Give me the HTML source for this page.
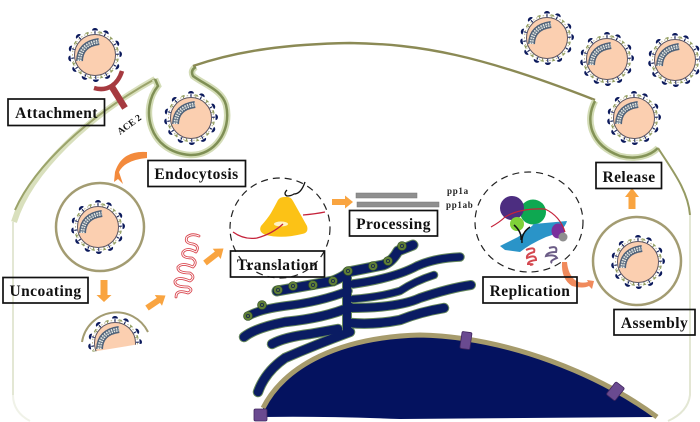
<!DOCTYPE html>
<html><head><meta charset="utf-8"><style>
html,body{margin:0;padding:0;background:#fff;width:700px;height:422px;overflow:hidden}
svg{display:block}
.lb{font-family:"Liberation Serif",serif;font-weight:bold;font-size:15.5px;fill:#111;text-anchor:middle;letter-spacing:.45px}
.bx{fill:none;stroke:#111;stroke-width:1.7}
.o path{stroke:#66885c}
</style></head><body>
<svg width="700" height="422" viewBox="0 0 700 422" xmlns="http://www.w3.org/2000/svg">
<defs>
<g id="s1"><path d="M0-21V-24" stroke="#0c1a5c" stroke-width="1"/><path d="M-3-24A3 2.500 0 0 1 3-24Z" fill="#0c1a5c" transform="translate(0,-.5)"/></g>
<g id="s2"><path d="M0-21V-23.500M-1.700-23.500H1.700" stroke="#8d9a5a" stroke-width="1" fill="none"/></g>
<g id="v">
<circle r="22.500" fill="none" stroke="#b9b38a" stroke-width="1" stroke-dasharray="1.500 2"/>
<use href="#s1" transform="rotate(0)"/><use href="#s1" transform="rotate(26)"/><use href="#s1" transform="rotate(62)"/><use href="#s1" transform="rotate(88)"/><use href="#s1" transform="rotate(118)"/><use href="#s1" transform="rotate(150)"/><use href="#s1" transform="rotate(178)"/><use href="#s1" transform="rotate(205)"/><use href="#s1" transform="rotate(235)"/><use href="#s1" transform="rotate(262)"/><use href="#s1" transform="rotate(285)"/><use href="#s1" transform="rotate(318)"/>
<use href="#s2" transform="rotate(13)"/><use href="#s2" transform="rotate(44)"/><use href="#s2" transform="rotate(75)"/><use href="#s2" transform="rotate(103)"/><use href="#s2" transform="rotate(134)"/><use href="#s2" transform="rotate(164)"/><use href="#s2" transform="rotate(192)"/><use href="#s2" transform="rotate(220)"/><use href="#s2" transform="rotate(248)"/><use href="#s2" transform="rotate(302)"/><use href="#s2" transform="rotate(340)"/>
<circle r="20.500" fill="#fbcfb0" stroke="#5c5560" stroke-width="1"/>
<path d="M-15.500 6Q-15-11 4-13.500" fill="none" stroke="#4f6279" stroke-width="7"/>
<path d="M-15.500 6Q-15-11 4-13.500" fill="none" stroke="#e6e8e2" stroke-width="4" stroke-dasharray="1.500 1"/>
<path d="M-15.500 6Q-15-11 4-13.500" fill="none" stroke="#7a8a98" stroke-width=".8"/>
</g>
<g id="g"><circle r="4.500" fill="#5e7d36" stroke="#2d4a24" stroke-width=".6"/><circle r="1.600" fill="none" stroke="#17264f" stroke-width=".8"/></g>
<clipPath id="hc"><path d="M85 353L146 343V290H85Z"/></clipPath>
</defs>

<rect width="700" height="422" fill="#fff"/>

<!-- membrane -->
<path d="M13 395V222" fill="none" stroke="#e3e7d4" stroke-width="2"/>
<path d="M13 395Q13 412 30 421" fill="none" stroke="#f0f2e8" stroke-width="2"/>
<path d="M14 222C30 170 90 115 155 79" fill="none" stroke="#d9e0bd" stroke-width="6"/>
<path d="M15 210C35 165 90 115 155 79" fill="none" stroke="#9ba36a" stroke-width="2"/>
<path d="M155 79L158 86C140 108 148 152 190 155C215 156 232 130 226 105C222 90 205 85 193 76Q190 70 196 67" fill="none" stroke="#d3dcb6" stroke-width="6.500"/>
<path d="M155 79L158 86C140 108 148 152 190 155C215 156 232 130 226 105C222 90 205 85 193 76Q190 70 196 67" fill="none" stroke="#7f8f55" stroke-width="2.500"/>
<path d="M193 66C240 50 290 44 350 43C420 44 480 55 595 100" fill="none" stroke="#8b8a55" stroke-width="2.400"/>
<path d="M595 101C585 120 590 145 620 156C636 160 650 156 658 148" fill="none" stroke="#d3dcb6" stroke-width="6.500"/>
<path d="M595 101C585 120 590 145 620 156C636 160 650 156 658 148" fill="none" stroke="#849357" stroke-width="2.500"/>
<path d="M658 148C672 170 688 190 690 215" fill="none" stroke="#959a62" stroke-width="2"/>
<path d="M690 215V395Q688 412 668 421" fill="none" stroke="#e3e7d4" stroke-width="2"/>

<!-- viruses -->
<use href="#v" x="95" y="55"/>
<use href="#v" x="191" y="118"/>
<use href="#v" x="547" y="38"/>
<use href="#v" x="607" y="59"/>
<use href="#v" x="675" y="60"/>
<use href="#v" x="634" y="118"/>
<circle cx="100" cy="227" r="44" fill="none" stroke="#a39c72" stroke-width="2.500"/>
<use href="#v" x="98" y="227"/>
<circle cx="637" cy="261" r="44" fill="none" stroke="#a39c72" stroke-width="2.500"/>
<use href="#v" x="638" y="262"/>
<g clip-path="url(#hc)"><use href="#v" x="115" y="343"/></g>
<path d="M82 342A35 35 0 0 1 148 332" fill="none" stroke="#a39c72" stroke-width="2"/>

<!-- ACE2 -->
<path d="M94 88C108 92 118 84 122 71" fill="none" stroke="#a63a40" stroke-width="4.500"/>
<path d="M112 87L125 108" stroke="#a63a40" stroke-width="6.500"/>
<text x="131" y="127" transform="rotate(-36 131 127)" font-family="Liberation Serif,serif" font-size="9.500" font-weight="bold" fill="#111" text-anchor="middle">ACE 2</text>

<!-- nucleus -->
<path d="M263 408C285 365 340 337 420 335C510 337 600 375 657 417L400 419Q320 416 263 417Z" fill="#04125f"/>
<path d="M263 408C285 365 340 337 420 335C510 337 600 375 657 417" fill="none" stroke="#a69b6c" stroke-width="5"/>
<g fill="#6a4a90" stroke="#41265f" stroke-width=".8">
<rect x="254" y="409" width="13" height="12" rx="1.500"/>
<rect x="461" y="332" width="10" height="17" rx="1.500" transform="rotate(8 466 340)"/>
<rect x="610" y="383" width="11" height="16" rx="1.500" transform="rotate(38 615 391)"/>
</g>

<!-- ER outline -->
<g fill="none" stroke="#66885c" stroke-linecap="round" stroke-linejoin="round">
<path d="M277 291L333 281Q345 276 348 272L383 265Q392 262 398 251L413 245" stroke-width="11"/>
<path d="M347 272V330" stroke-width="10"/>
<path d="M460 257Q435 258 417 266Q395 278 353 284" stroke-width="9.500"/>
<path d="M434 275Q415 281 400 291Q380 297 353 299" stroke-width="8.500"/>
<path d="M471 285Q450 288 420 298Q398 308 350 308" stroke-width="10"/>
<path d="M444 308Q420 312 400 320Q375 325 350 323" stroke-width="10.500"/>
<path d="M250 315Q262 309 285 306Q320 302 348 291" stroke-width="9.500"/>
<path d="M244 337Q255 328 285 322Q325 318 350 307" stroke-width="10.500"/>
<path d="M272 344Q285 337 310 334L338 329" stroke-width="10.500"/>
<path d="M258 392Q265 372 285 358Q315 345 350 332" stroke-width="10.500"/>
</g>
<!-- ER fill -->
<g fill="none" stroke="#0a1c63" stroke-linecap="round" stroke-linejoin="round">
<path d="M277 291L333 281Q345 276 348 272L383 265Q392 262 398 251L413 245" stroke-width="9"/>
<path d="M347 272V330" stroke-width="8"/>
<path d="M460 257Q435 258 417 266Q395 278 353 284" stroke-width="7.500"/>
<path d="M434 275Q415 281 400 291Q380 297 353 299" stroke-width="6.500"/>
<path d="M471 285Q450 288 420 298Q398 308 350 308" stroke-width="8"/>
<path d="M444 308Q420 312 400 320Q375 325 350 323" stroke-width="8.500"/>
<path d="M250 315Q262 309 285 306Q320 302 348 291" stroke-width="7.500"/>
<path d="M244 337Q255 328 285 322Q325 318 350 307" stroke-width="8.500"/>
<path d="M272 344Q285 337 310 334L338 329" stroke-width="8.500"/>
<path d="M258 392Q265 372 285 358Q315 345 350 332" stroke-width="8.500"/>
</g>
<use href="#g" x="402" y="246"/><use href="#g" x="388" y="261"/><use href="#g" x="373" y="266"/><use href="#g" x="348" y="271"/><use href="#g" x="333" y="281"/><use href="#g" x="313" y="285"/><use href="#g" x="293" y="286"/><use href="#g" x="278" y="290"/><use href="#g" x="262" y="305"/><use href="#g" x="248" y="316"/>

<!-- Translation -->
<ellipse cx="280" cy="228" rx="50" ry="50" fill="none" stroke="#222" stroke-width="1.200" stroke-dasharray="7 5"/>
<path d="M284 197Q291 196 293 201L307 226Q309 233 302 234Q282 239 266 235Q258 232 261 226Q268 218 271 213Q276 204 278 200Q280 197 284 197Z" fill="#fcc216"/>
<ellipse cx="281" cy="224" rx="7" ry="2.500" fill="#fff3c4"/>
<path d="M233 232Q244 240 257 238Q272 234 283 224" fill="none" stroke="#c5223a" stroke-width="1.300"/>
<path d="M303 215Q315 214 325 212" fill="none" stroke="#c5223a" stroke-width="1.300"/>
<path d="M287 190Q283 194 287 196Q291 196 294 194Q301 194 305 182" fill="none" stroke="#111" stroke-width="1.300"/>

<!-- Processing -->
<rect x="356" y="193" width="61" height="5" fill="#8f8f8f" stroke="#777" stroke-width=".5"/>
<rect x="357" y="202" width="82" height="5" fill="#8f8f8f" stroke="#777" stroke-width=".5"/>
<text x="447" y="194" font-family="Liberation Serif,serif" font-size="9" font-weight="bold" fill="#222" letter-spacing=".7">pp1a</text>
<text x="446" y="208" font-family="Liberation Serif,serif" font-size="9" font-weight="bold" fill="#222" letter-spacing=".7">pp1ab</text>

<!-- Replication -->
<ellipse cx="529" cy="222" rx="54" ry="50" fill="none" stroke="#222" stroke-width="1.200" stroke-dasharray="7 5"/>
<ellipse cx="533" cy="212" rx="13" ry="12.500" fill="#0ea851"/>
<path d="M500 246L518 237Q528 230 534 224L567 221Q564 232 546 237Q530 244 520 252L505 250Z" fill="#2a94c8"/>
<circle cx="512" cy="208" r="12" fill="#4c2d80"/>
<circle cx="517" cy="224" r="7" fill="#7fd038"/>
<ellipse cx="558" cy="231" rx="6.500" ry="7.500" fill="#7a2f9c"/>
<circle cx="563" cy="237" r="4.500" fill="#8e8e8e"/>
<path d="M491 227Q500 222 505 217Q520 208 545 209Q560 216 565 232" fill="none" stroke="#c5223a" stroke-width="1.200"/>
<path d="M514 225Q522 232 521 240M530 227Q521 233 522 243" fill="none" stroke="#111" stroke-width="1.500"/>
<path d="M526 250Q536 246 534 252Q526 254 527 258Q536 254 536 260Q528 261 528 264Q536 264 530 265" fill="none" stroke="#d4474f" stroke-width="2"/>
<path d="M549 248Q558 245 556 252Q547 252 546 256Q555 254 557 258Q549 261 552 263" fill="none" stroke="#6b5c86" stroke-width="2"/>

<!-- RNA -->
<g fill="none" stroke-linecap="round" stroke-linejoin="round">
<path d="M176 297Q176 289 188 293Q194 290 188 287Q174 287 175 281Q178 276 190 281Q196 277 190 273Q177 273 178 267Q182 262 193 267Q198 262 192 258Q181 258 183 252Q187 247 196 252Q200 246 193 244Q184 243 187 237Q192 233 199 236" stroke="#d9474f" stroke-width="2.800"/>
<path d="M176 297Q176 289 188 293Q194 290 188 287Q174 287 175 281Q178 276 190 281Q196 277 190 273Q177 273 178 267Q182 262 193 267Q198 262 192 258Q181 258 183 252Q187 247 196 252Q200 246 193 244Q184 243 187 237Q192 233 199 236" stroke="#fff" stroke-width="1"/>
</g>

<!-- arrows -->
<g fill="#f9a440">
<path d="M100.500 280H107.500V295H111.500L104 302L96.500 295H100.500Z"/>
<path d="M145.300 305.500L156.700 297.900L154.800 295L165.500 295.500L162 305.800L160 302.900L148.700 310.500Z"/>
<path d="M203.200 260.600L214.900 251.500L212.700 248.800L223.500 248.500L220.700 259L218.500 256.300L206.800 265.400Z"/>
<path d="M332 199H345V195.500L353 202L345 208.500V205H332Z"/>
<path d="M628.500 209V197H625L632 188L639 197H635.500V209Z"/>
<path d="M147 152Q122 150 115 172L114 182L118 179L123 184L119 172Q125 160 147 158Z" fill="#f38a3c"/>
<path d="M562 262Q561 279 572 286Q583 289 589 286L592 289L594 281L587 280L588 282Q580 284 575 280Q568 274 567 262Z" fill="#f08a5c"/>
</g>

<!-- labels -->
<rect class="bx" x="8" y="99" width="96.500" height="26.500"/><text class="lb" x="56.500" y="118">Attachment</text>
<rect class="bx" x="148" y="160.500" width="97.500" height="26"/><text class="lb" x="196.500" y="179">Endocytosis</text>
<rect class="bx" x="3" y="277.500" width="85" height="25.500"/><text class="lb" x="45.500" y="296">Uncoating</text>
<rect class="bx" x="230.500" y="251" width="94" height="26"/><text class="lb" x="277.500" y="270">Translation</text>
<rect class="bx" x="349.500" y="210.500" width="88" height="25.500"/><text class="lb" x="393.500" y="229">Processing</text>
<rect class="bx" x="596" y="162.500" width="65.500" height="26"/><text class="lb" x="629" y="182">Release</text>
<rect class="bx" x="483" y="277" width="94" height="26"/><text class="lb" x="530" y="296">Replication</text>
<rect class="bx" x="614" y="309.500" width="81" height="25.500"/><text class="lb" x="654.500" y="328">Assembly</text>
</svg>
</body></html>
